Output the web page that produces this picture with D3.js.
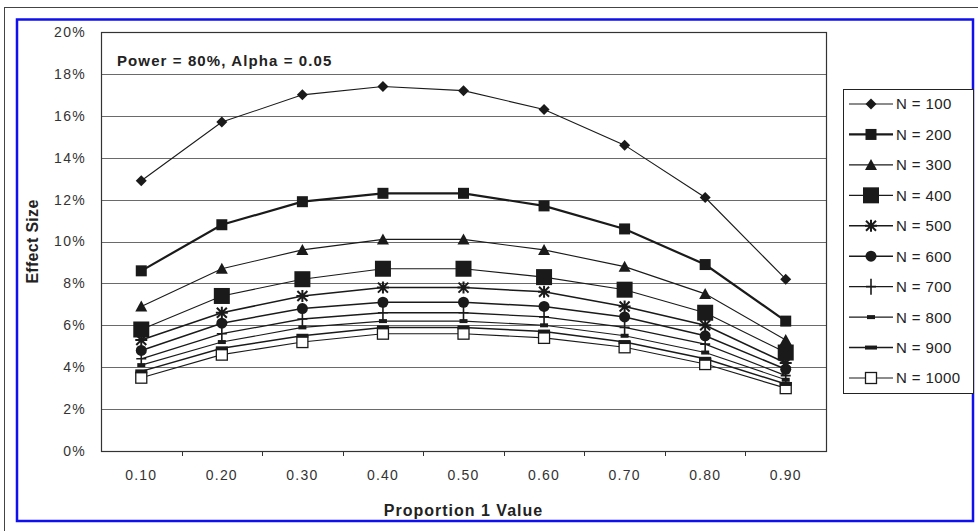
<!DOCTYPE html>
<html>
<head>
<meta charset="utf-8">
<script src="https://cdn.jsdelivr.net/npm/d3@7"></script>
<style>
  html, body { margin: 0; padding: 0; background: #fff; }
  svg { display: block; font-family: "Liberation Sans", Arial, sans-serif; }
</style>
</head>
<body>
<svg id="chart" width="978" height="531"></svg>
<script>
const categories = ["0.10", "0.20", "0.30", "0.40", "0.50", "0.60", "0.70", "0.80", "0.90"];
const seriesNames = ["N = 100", "N = 200", "N = 300", "N = 400", "N = 500", "N = 600", "N = 700", "N = 800", "N = 900", "N = 1000"];
const n100  = [12.9, 15.7, 17.0, 17.4, 17.2, 16.3, 14.6, 12.1, 8.2];
const n200  = [8.6, 10.8, 11.9, 12.3, 12.3, 11.7, 10.6, 8.9, 6.2];
const n300  = [6.9, 8.7, 9.6, 10.1, 10.1, 9.6, 8.8, 7.5, 5.3];
const n400  = [5.8, 7.4, 8.2, 8.7, 8.7, 8.3, 7.7, 6.6, 4.7];
const n500  = [5.3, 6.6, 7.4, 7.8, 7.8, 7.6, 6.9, 6.0, 4.2];
const n600  = [4.8, 6.1, 6.8, 7.1, 7.1, 6.9, 6.4, 5.5, 3.9];
const n700  = [4.4, 5.6, 6.3, 6.6, 6.6, 6.4, 5.9, 5.1, 3.6];
const n800  = [4.1, 5.2, 5.9, 6.2, 6.2, 6.0, 5.5, 4.7, 3.4];
const n900  = [3.8, 4.9, 5.5, 5.9, 5.9, 5.7, 5.2, 4.4, 3.2];
const n1000 = [3.5, 4.6, 5.2, 5.6, 5.6, 5.4, 4.95, 4.15, 3.0];
const yTicks = [0, 2, 4, 6, 8, 10, 12, 14, 16, 18, 20];
const titleText = "Power = 80%, Alpha = 0.05";
const xTitle = "Proportion 1 Value";
const yTitle = "Effect Size";

const seriesValues = [n100, n200, n300, n400, n500, n600, n700, n800, n900, n1000];
const markerTypes = ["diamond", "square", "triangle", "bigsquare", "star", "circle", "plus", "smallbar", "bar", "opensquare"];
const lineWidths = [1.1, 2.2, 1.1, 1.1, 1.5, 1.5, 1.3, 1.1, 1.5, 1.1];

const svg = d3.select("#chart");
const plot = { left: 101, right: 826, top: 32, bottom: 451 };
const ink = "#1a1a1a";

// outer frames
svg.append("rect").attr("x", 4.5).attr("y", 7.5).attr("width", 1000).attr("height", 600)
  .attr("fill", "none").attr("stroke", "#444").attr("stroke-width", 1);
svg.append("rect").attr("x", 17).attr("y", 19.5).attr("width", 956).attr("height", 501.5)
  .attr("fill", "none").attr("stroke", "#1010ee").attr("stroke-width", 2.5);

const x = d3.scaleBand().domain(categories).range([plot.left, plot.right]).paddingInner(0).paddingOuter(0);
const y = d3.scaleLinear().domain([0, 20]).range([plot.bottom, plot.top]);

// gridlines
svg.append("g").selectAll("line").data(yTicks.filter(t => t > 0 && t < 20)).join("line")
  .attr("x1", plot.left).attr("x2", plot.right)
  .attr("y1", d => Math.round(y(d)) + 0.5).attr("y2", d => Math.round(y(d)) + 0.5)
  .attr("stroke", "#6a6a6a").attr("stroke-width", 1);

// plot border
svg.append("rect").attr("x", plot.left + 0.5).attr("y", plot.top + 0.5)
  .attr("width", plot.right - plot.left).attr("height", plot.bottom - plot.top)
  .attr("fill", "none").attr("stroke", "#333").attr("stroke-width", 1.2);

// y axis labels
const yAxis = d3.axisLeft(y).tickValues(yTicks).tickFormat(d => d + "%").tickSize(0).tickPadding(15);
const gy = svg.append("g").attr("transform", `translate(${plot.left},0)`).call(yAxis);
gy.select(".domain").remove();
gy.selectAll("text").attr("font-size", 14).attr("letter-spacing", 1.3).attr("fill", "#333")
  .attr("font-family", "Liberation Sans, Arial, sans-serif");

// x axis
const xAxis = d3.axisBottom(x).tickSize(0).tickPadding(19);
const gx = svg.append("g").attr("transform", `translate(0,${plot.bottom})`).call(xAxis);
gx.select(".domain").remove();
gx.selectAll("text").attr("font-size", 14).attr("letter-spacing", 1.2).attr("fill", "#333")
  .attr("font-family", "Liberation Sans, Arial, sans-serif");
// category boundary tick marks
svg.append("g").selectAll("line").data(categories.slice(1)).join("line")
  .attr("x1", d => Math.round(x(d)) + 0.5).attr("x2", d => Math.round(x(d)) + 0.5)
  .attr("y1", plot.bottom).attr("y2", plot.bottom + 5)
  .attr("stroke", "#333").attr("stroke-width", 1);

// titles
svg.append("text").attr("x", 117).attr("y", 66).text(titleText)
  .attr("font-size", 15).attr("letter-spacing", 1.1).attr("font-weight", "bold").attr("fill", "#222");
svg.append("text").attr("x", (plot.left + plot.right) / 2).attr("y", 516).attr("text-anchor", "middle")
  .text(xTitle).attr("font-size", 16).attr("letter-spacing", 1).attr("font-weight", "bold").attr("fill", "#222");
svg.append("text").attr("transform", `translate(38,${(plot.top + plot.bottom) / 2}) rotate(-90)`)
  .attr("text-anchor", "middle").text(yTitle)
  .attr("font-size", 16).attr("letter-spacing", 0.3).attr("font-weight", "bold").attr("fill", "#222");

// marker drawing
function drawMarker(g, type) {
  switch (type) {
    case "diamond":
      g.append("path").attr("d", "M0,-5.5L5.5,0L0,5.5L-5.5,0Z").attr("fill", ink); break;
    case "square":
      g.append("rect").attr("x", -5.5).attr("y", -5.5).attr("width", 11).attr("height", 11).attr("fill", ink); break;
    case "triangle":
      g.append("path").attr("d", "M0,-6L6,5L-6,5Z").attr("fill", ink); break;
    case "bigsquare":
      g.append("rect").attr("x", -8).attr("y", -8).attr("width", 16).attr("height", 16).attr("fill", ink); break;
    case "star":
      g.append("path").attr("d", "M-5,-5L5,5M-5,5L5,-5M0,-6L0,6M-6,0L6,0").attr("stroke", ink).attr("stroke-width", 2); break;
    case "circle":
      g.append("circle").attr("r", 5.5).attr("fill", ink); break;
    case "plus":
      g.append("path").attr("d", "M0,-8L0,8M-5,0L5,0").attr("stroke", ink).attr("stroke-width", 1.6); break;
    case "smallbar":
      g.append("rect").attr("x", -4).attr("y", -2).attr("width", 8).attr("height", 4).attr("fill", ink); break;
    case "bar":
      g.append("rect").attr("x", -6).attr("y", -2).attr("width", 12).attr("height", 4).attr("fill", ink); break;
    case "opensquare":
      g.append("rect").attr("x", -5.5).attr("y", -5.5).attr("width", 11).attr("height", 11)
        .attr("fill", "#fff").attr("stroke", ink).attr("stroke-width", 1.3); break;
  }
}

const line = d3.line().x((d, i) => x(categories[i]) + x.bandwidth() / 2).y(d => y(d));

const seriesG = svg.append("g");
seriesValues.forEach((vals, s) => {
  seriesG.append("path").datum(vals).attr("d", line)
    .attr("fill", "none").attr("stroke", ink).attr("stroke-width", lineWidths[s]);
});
for (let s = seriesValues.length - 1; s >= 0; s--) {
  seriesValues[s].forEach((v, i) => {
    const g = seriesG.append("g")
      .attr("transform", `translate(${x(categories[i]) + x.bandwidth() / 2},${y(v)})`);
    drawMarker(g, markerTypes[s]);
  });
}

// legend
const legend = svg.append("g");
legend.append("rect").attr("x", 843.5).attr("y", 89.5).attr("width", 130).attr("height", 304)
  .attr("fill", "#fff").attr("stroke", "#222").attr("stroke-width", 1);
const ly = d3.scalePoint().domain(seriesNames).range([104, 378]);
seriesNames.forEach((name, s) => {
  const yy = ly(name);
  legend.append("line").attr("x1", 849).attr("x2", 893).attr("y1", yy).attr("y2", yy)
    .attr("stroke", ink).attr("stroke-width", lineWidths[s]);
  const g = legend.append("g").attr("transform", `translate(871,${yy})`);
  drawMarker(g, markerTypes[s]);
  legend.append("text").attr("x", 896).attr("y", yy).attr("dy", "0.36em")
    .text(name).attr("font-size", 15).attr("letter-spacing", 0.4).attr("fill", "#222");
});
</script>
</body>
</html>
